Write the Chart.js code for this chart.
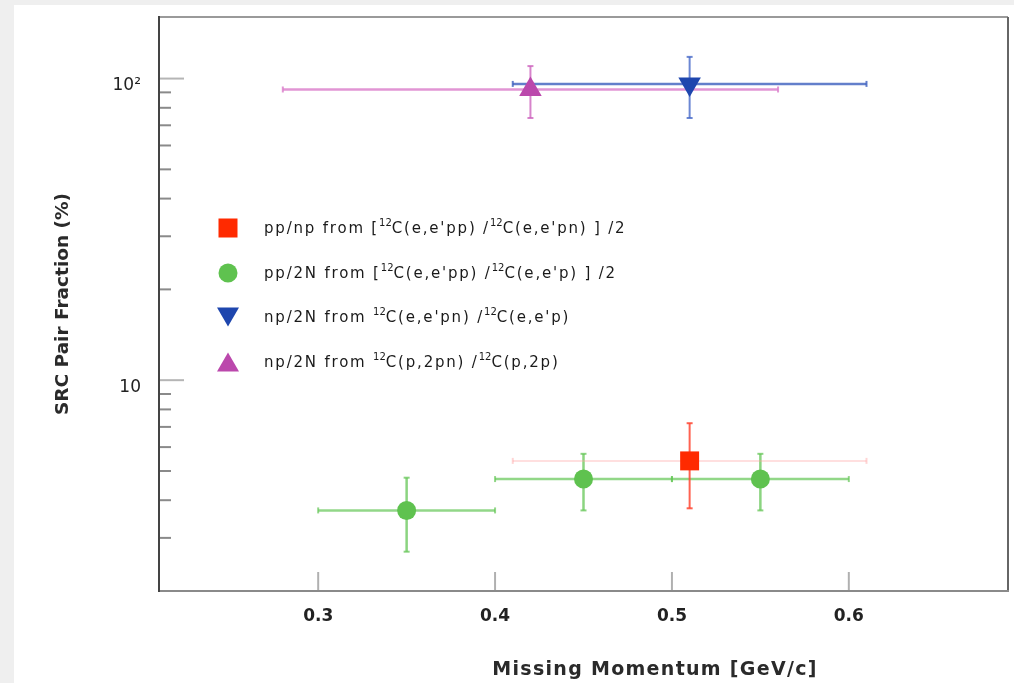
<!DOCTYPE html>
<html>
<head>
<meta charset="utf-8">
<script src="https://cdn.jsdelivr.net/npm/chart.js@4.4.0/dist/chart.umd.min.js"></script>
<style>
  body { margin: 0; background: #efefef; }
  #panel { position: absolute; left: 14px; top: 5px; width: 1000px; height: 678px; background: #fff; }
  #legend { position: absolute; left: 0; top: 0; font-family: "DejaVu Sans"; font-size: 15px; color: #1a1a1a; letter-spacing: 1.8px; }
  .row { position: absolute; left: 250px; white-space: nowrap; transform: translateY(-50%); }
  .row sup { font-size: 10px; position: relative; top: -2px; vertical-align: top; letter-spacing: 0; }
  .mk { position: absolute; transform: translate(-50%, -50%); }
  #xtitle { position: absolute; left: 641px; top: 663px; transform: translate(-50%, -50%); font-family: "DejaVu Sans"; font-weight: bold; font-size: 19px; letter-spacing: 1.3px; color: #2a2a2a; white-space: nowrap; }
</style>
</head>
<body>
<div id="panel">
  <canvas id="chart" width="1000" height="678"></canvas>
  <div id="legend"></div>
  <div id="xtitle">Missing Momentum [GeV/c]</div>
</div>
<script>
// series labels (legend)
const seriesLabels = [
  "pp/np from [<sup>12</sup>C(e,e'pp) /<sup>12</sup>C(e,e'pn) ] /2",
  "pp/2N from [<sup>12</sup>C(e,e'pp) /<sup>12</sup>C(e,e'p) ] /2",
  "np/2N from <sup>12</sup>C(e,e'pn) /<sup>12</sup>C(e,e'p)",
  "np/2N from <sup>12</sup>C(p,2pn) /<sup>12</sup>C(p,2p)",
];

// pp/np from (e,e'pp)/(e,e'pn)
const ppnpX = [0.51];
const ppnpY = [5.4];
const ppnpXLow = [0.41];
const ppnpXHigh = [0.61];
const ppnpYLow = [3.76];
const ppnpYHigh = [7.2];

// pp/2N from (e,e'pp)/(e,e'p)
const pp2nX = [0.35, 0.45, 0.55];
const pp2nY = [3.7, 4.7, 4.7];
const pp2nXLow = [0.30, 0.40, 0.50];
const pp2nXHigh = [0.40, 0.50, 0.60];
const pp2nYLow = [2.7, 3.7, 3.7];
const pp2nYHigh = [4.75, 5.7, 5.7];

// np/2N from (e,e'pn)/(e,e'p)
const np2nEX = [0.51];
const np2nEY = [96];
const np2nEXLow = [0.41];
const np2nEXHigh = [0.61];
const np2nEYLow = [74];
const np2nEYHigh = [118];

// np/2N from (p,2pn)/(p,2p)
const np2nPX = [0.42];
const np2nPY = [92];
const np2nPXLow = [0.28];
const np2nPXHigh = [0.56];
const np2nPYLow = [74];
const np2nPYHigh = [110];

const xTickValues = [0.3, 0.4, 0.5, 0.6];
const yTickValues = [2, 3, 4, 5, 6, 7, 8, 9, 10, 20, 30, 40, 50, 60, 70, 80, 90, 100];
const yTickLabels = { 10: "10", 100: "10\u00b2" };

function points(xs, ys, xl, xh, yl, yh) {
  return xs.map((x, i) => ({ x: x, y: ys[i], xMin: xl[i], xMax: xh[i], yMin: yl[i], yMax: yh[i] }));
}

// draws the x/y error bars with small end caps
const errorBars = {
  id: "errorBars",
  beforeDatasetsDraw(chart) {
    const { ctx, chartArea: a, scales: { x, y } } = chart;
    ctx.save();
    ctx.beginPath();
    ctx.rect(a.left, a.top, a.right - a.left, a.bottom - a.top);
    ctx.clip();
    const seg = (x0, y0, x1, y1) => { ctx.beginPath(); ctx.moveTo(x0, y0); ctx.lineTo(x1, y1); ctx.stroke(); };
    chart.data.datasets.slice().reverse().forEach(ds => {
      ds.data.forEach(p => {
        const px = x.getPixelForValue(p.x), py = y.getPixelForValue(p.y);
        const x0 = x.getPixelForValue(p.xMin), x1 = x.getPixelForValue(p.xMax);
        const y0 = y.getPixelForValue(p.yMin), y1 = y.getPixelForValue(p.yMax);
        ctx.strokeStyle = ds.xErrColor;
        ctx.lineWidth = ds.xErrWidth;
        seg(x0, py, x1, py);
        ctx.lineWidth = 2;
        seg(x0, py - 3, x0, py + 3);
        seg(x1, py - 3, x1, py + 3);
        ctx.strokeStyle = ds.yErrColor;
        ctx.lineWidth = ds.yErrWidth;
        seg(px, y0, px, y1);
        ctx.lineWidth = 2;
        seg(px - 3, y0, px + 3, y0);
        seg(px - 3, y1, px + 3, y1);
      });
    });
    ctx.restore();

    // inward tick marks
    ctx.save();
    ctx.lineWidth = 2;
    x.ticks.forEach(t => {
      const px = x.getPixelForValue(t.value);
      ctx.strokeStyle = "#b0b0b0";
      seg(px, a.bottom, px, a.bottom - 19);
    });
    y.ticks.forEach(t => {
      const py = y.getPixelForValue(t.value);
      const major = t.value === 10 || t.value === 100;
      ctx.strokeStyle = major ? "#b5b5b5" : "#8a8a8a";
      seg(a.left, py, a.left + (major ? 25 : 12), py);
    });
    ctx.restore();
  },
  afterDatasetsDraw(chart) {
    const { ctx, chartArea: a } = chart;
    ctx.save();
    ctx.lineWidth = 2;
    const seg = (x0, y0, x1, y1, c) => { ctx.strokeStyle = c; ctx.beginPath(); ctx.moveTo(x0, y0); ctx.lineTo(x1, y1); ctx.stroke(); };
    seg(a.left, a.top, a.right, a.top, "#9a9a9a");
    seg(a.right, a.top, a.right, a.bottom + 1, "#666");
    seg(a.left - 1, a.bottom, a.right + 1, a.bottom, "#8a8a8a");
    seg(a.left, a.top - 1, a.left, a.bottom + 1, "#444");
    ctx.restore();
  }
};

const datasets = [
  {
    label: "pp/np",
    data: points(ppnpX, ppnpY, ppnpXLow, ppnpXHigh, ppnpYLow, ppnpYHigh),
    pointStyle: "rect", pointRadius: 13.4,
    backgroundColor: "#ff2a00", borderColor: "#ff2a00", borderWidth: 0,
    xErrColor: "rgba(255,160,160,0.45)", xErrWidth: 1.5,
    yErrColor: "rgba(255,70,50,0.85)", yErrWidth: 2,
  },
  {
    label: "pp/2N",
    data: points(pp2nX, pp2nY, pp2nXLow, pp2nXHigh, pp2nYLow, pp2nYHigh),
    pointStyle: "circle", pointRadius: 9.5,
    backgroundColor: "#5fc24f", borderColor: "#5fc24f", borderWidth: 0,
    xErrColor: "rgba(100,198,85,0.7)", xErrWidth: 2.5,
    yErrColor: "rgba(100,198,85,0.75)", yErrWidth: 2.5,
  },
  {
    label: "np/2N (e,e'pn)",
    data: points(np2nEX, np2nEY, np2nEXLow, np2nEXHigh, np2nEYLow, np2nEYHigh),
    pointStyle: "triangle", rotation: 180, pointRadius: 13,
    backgroundColor: "#1e46ae", borderColor: "#1e46ae", borderWidth: 0,
    xErrColor: "rgba(60,95,190,0.8)", xErrWidth: 2.5,
    yErrColor: "rgba(70,105,200,0.8)", yErrWidth: 2,
  },
  {
    label: "np/2N (p,2pn)",
    data: points(np2nPX, np2nPY, np2nPXLow, np2nPXHigh, np2nPYLow, np2nPYHigh),
    pointStyle: "triangle", pointRadius: 13,
    backgroundColor: "#bb48ac", borderColor: "#bb48ac", borderWidth: 0,
    xErrColor: "rgba(220,130,205,0.85)", xErrWidth: 2.5,
    yErrColor: "rgba(205,100,190,0.8)", yErrWidth: 2,
  },
];

const config = {
  type: "scatter",
  data: { datasets: datasets },
  options: {
    responsive: false,
    animation: false,
    layout: { autoPadding: false, padding: { top: 12, right: 6, left: 0, bottom: 0 } },
    plugins: { legend: { display: false }, tooltip: { enabled: false } },
    scales: {
      x: {
        type: "linear",
        min: 0.21,
        max: 0.69,
        afterBuildTicks: s => { s.ticks = xTickValues.map(v => ({ value: v })); },
        afterFit: s => { s.height = 92; s.paddingLeft = 0; s.paddingRight = 0; },
        grid: { display: false, drawTicks: false },
        border: { display: false },
        ticks: {
          padding: 15,
          color: "#222",
          font: { family: "DejaVu Sans", size: 17, weight: "bold" },
          callback: v => v.toFixed(1),
        },
      },
      y: {
        type: "logarithmic",
        min: 2,
        max: 160,
        afterBuildTicks: s => { s.ticks = yTickValues.map(v => ({ value: v })); },
        afterFit: s => { s.width = 145; s.paddingTop = 0; s.paddingBottom = 0; },
        grid: { display: false, drawTicks: false },
        border: { display: false },
        ticks: {
          autoSkip: false,
          padding: 18,
          labelOffset: 7,
          color: "#222",
          font: { family: "DejaVu Sans", size: 17 },
          callback: v => yTickLabels[v] || "",
        },
        title: {
          display: true,
          text: "SRC Pair Fraction (%)",
          color: "#2a2a2a",
          font: { family: "DejaVu Sans", size: 18.5, weight: "bold" },
          padding: { top: 38, bottom: 0 },
        },
      },
    },
  },
  plugins: [errorBars],
};

const srcChart = new Chart(document.getElementById("chart"), config);

// legend inside the plot
const legend = document.getElementById("legend");
const legendTop = 223, legendGap = 44.7, markerX = 214;
datasets.forEach((ds, i) => {
  const cy = legendTop + i * legendGap;
  const mk = document.createElement("div");
  mk.className = "mk";
  mk.style.left = markerX + "px";
  mk.style.top = cy + "px";
  if (ds.pointStyle === "rect") {
    mk.style.width = "19px"; mk.style.height = "19px"; mk.style.background = ds.backgroundColor;
  } else if (ds.pointStyle === "circle") {
    mk.style.width = "19px"; mk.style.height = "19px"; mk.style.borderRadius = "50%"; mk.style.background = ds.backgroundColor;
  } else {
    mk.style.width = "0"; mk.style.height = "0";
    mk.style.borderLeft = "11px solid transparent";
    mk.style.borderRight = "11px solid transparent";
    if (ds.rotation === 180) mk.style.borderTop = "19px solid " + ds.backgroundColor;
    else mk.style.borderBottom = "19px solid " + ds.backgroundColor;
  }
  legend.appendChild(mk);
  const row = document.createElement("div");
  row.className = "row";
  row.style.top = cy + "px";
  row.innerHTML = seriesLabels[i];
  legend.appendChild(row);
});
</script>
</body>
</html>
